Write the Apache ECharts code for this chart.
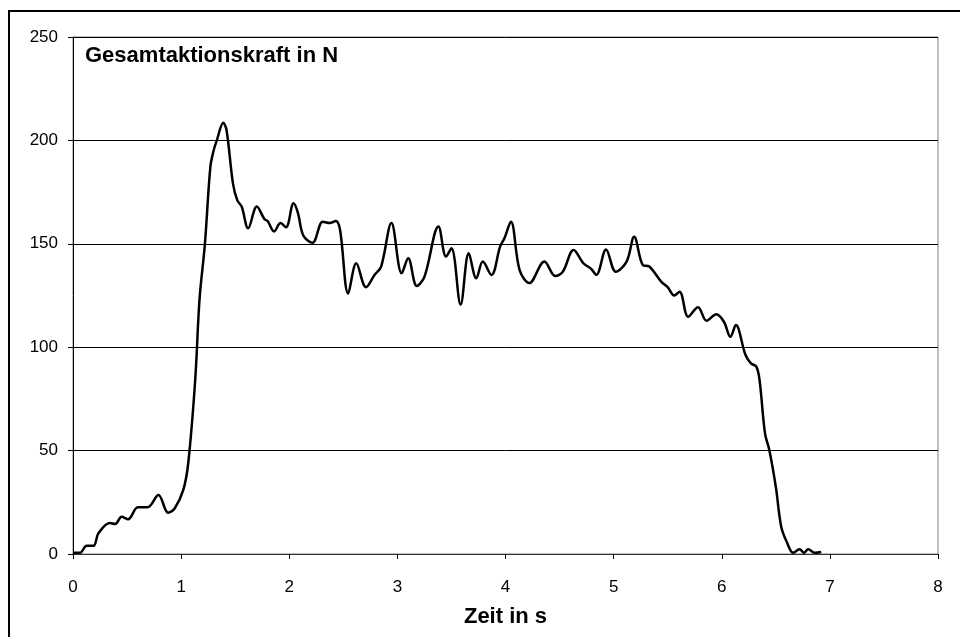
<!DOCTYPE html>
<html>
<head>
<meta charset="utf-8">
<script src="https://cdn.jsdelivr.net/npm/echarts@6/dist/echarts.min.js"></script>
<style>
  html, body { margin: 0; padding: 0; background: #fff; }
  #chart { width: 960px; height: 637px; }
</style>
</head>
<body>
<div id="chart"></div>
<script>
  // Zeit in s
  var zeit = [0, 0.065, 0.126, 0.19, 0.235, 0.34, 0.39, 0.45, 0.51, 0.6, 0.69, 0.79, 0.88, 0.94, 1.02, 1.066, 1.13,
    1.17, 1.22, 1.27, 1.30, 1.33, 1.39, 1.42, 1.48, 1.52, 1.56, 1.62, 1.70, 1.77, 1.80, 1.86, 1.92, 1.97, 2.04, 2.08,
    2.13, 2.215, 2.31, 2.375, 2.43, 2.47, 2.545, 2.62, 2.71, 2.79, 2.85, 2.945, 3.04, 3.10, 3.18, 3.25, 3.38, 3.45,
    3.50, 3.585, 3.66, 3.73, 3.79, 3.87, 3.95, 3.99, 4.05, 4.13, 4.22, 4.36, 4.46, 4.53, 4.63, 4.72, 4.79, 4.84, 4.93,
    5.02, 5.12, 5.19, 5.27, 5.33, 5.44, 5.50, 5.56, 5.61, 5.69, 5.78, 5.86, 5.95, 6.02, 6.08, 6.13, 6.22, 6.27, 6.32,
    6.35, 6.40, 6.44, 6.50, 6.55, 6.60, 6.66, 6.72, 6.76, 6.80, 6.86, 6.92];
  // Gesamtaktionskraft in N
  var kraft = [0.6, 0.6, 4, 4, 10, 15, 14.5, 18, 16.8, 22.6, 22.6, 28.5, 20, 22, 31, 44, 84,
    123, 150, 187, 195, 200, 208.5, 205, 179, 171, 168, 157.5, 168, 162, 161, 156, 160, 158, 169.6, 165,
    154, 150.5, 160.7, 160, 161, 156.7, 126, 140.6, 129, 135, 139, 160, 135.7, 143, 129.6, 134, 158.4, 143.8,
    147.8, 120.6, 145.4, 133.3, 141.4, 134.9, 148.6, 152.7, 160.7, 137.4, 131, 141.4, 134.4, 136.5, 147, 140.6, 138, 135, 147.3,
    136.5, 141.4, 153.4, 139.7, 139, 131.7, 129, 125, 126.8, 114.7, 119.3, 112.8, 115.9, 112.3, 105, 110.7, 96.2, 92.2, 90.6,
    84, 58.3, 50.3, 32.5, 13.2, 6, 0.6, 2.3, 0.6, 2.3, 0.6, 1];
  var yTicks = [0, 50, 100, 150, 200, 250];
  var xTicks = [0, 1, 2, 3, 4, 5, 6, 7, 8];

  var punkte = [];
  for (var i = 0; i < zeit.length; i++) {
    punkte.push([zeit[i], kraft[i]]);
  }

  var myChart = echarts.init(document.getElementById('chart'));
  var font = 'Liberation Sans, Arial, sans-serif';
  var option = {
    animation: false,
    backgroundColor: '#fff',
    grid: {
      left: 73,
      right: 22,
      top: 37,
      bottom: 83,
      show: true,
      borderColor: '#808080',
      borderWidth: 1
    },
    graphic: [
      {
        type: 'rect',
        shape: { x: 9, y: 11, width: 980, height: 660 },
        style: { fill: 'none', stroke: '#000', lineWidth: 2 },
        silent: true
      },
      {
        type: 'text',
        left: 85,
        top: 45,
        style: {
          text: 'Gesamtaktionskraft in N',
          font: 'bold 22px ' + font,
          fill: '#000'
        }
      }
    ],
    xAxis: {
      type: 'value',
      min: xTicks[0],
      max: xTicks[xTicks.length - 1],
      interval: 1,
      name: 'Zeit in s',
      nameLocation: 'middle',
      nameGap: 52,
      nameTextStyle: { fontFamily: font, fontSize: 22, fontWeight: 'bold', color: '#000' },
      axisLine: { onZero: false, lineStyle: { color: '#333', width: 1 } },
      axisTick: { show: true, inside: false, length: 5, lineStyle: { color: '#000' } },
      axisLabel: { fontFamily: font, fontSize: 17, color: '#000', margin: 25 },
      splitLine: { show: false }
    },
    yAxis: {
      type: 'value',
      min: yTicks[0],
      max: yTicks[yTicks.length - 1],
      interval: 50,
      axisLine: { show: true, lineStyle: { color: '#000', width: 1 } },
      axisTick: { show: true, inside: false, length: 5, lineStyle: { color: '#000' } },
      axisLabel: { fontFamily: font, fontSize: 17, color: '#000', margin: 15 },
      splitLine: { show: true, lineStyle: { color: '#000', width: 1 } }
    },
    series: [
      {
        name: 'Gesamtaktionskraft',
        type: 'line',
        data: punkte,
        showSymbol: false,
        smooth: 0.35,
        lineStyle: { color: '#000', width: 2.5 },
        z: 5
      }
    ]
  };
  myChart.setOption(option);
</script>
</body>
</html>
